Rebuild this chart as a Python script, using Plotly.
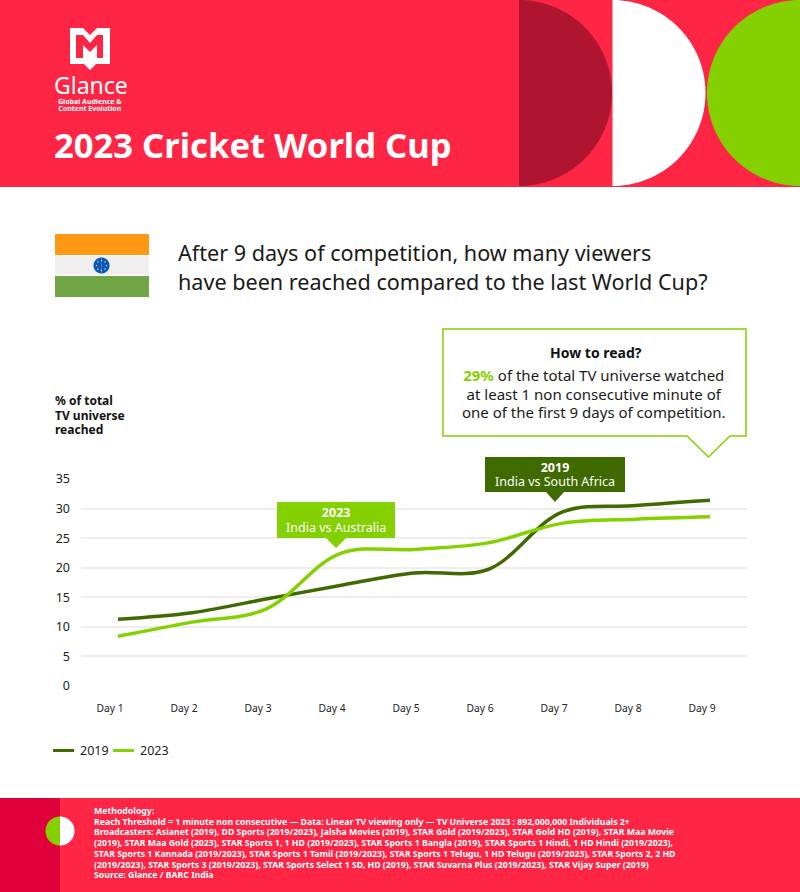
import numpy as np
import plotly.graph_objects as go

W, H = 800, 892

RED = "#FF2545"
RED_DARK = "#E0003A"
WINE = "#B01530"
GREEN = "#84D000"
OLIVE = "#3F6A00"
FONT = "Noto Sans"

days = ["Day 1", "Day 2", "Day 3", "Day 4", "Day 5", "Day 6", "Day 7", "Day 8", "Day 9"]
reach_2019 = [11.3, 12.4, 14.7, 17.0, 19.1, 19.7, 29.4, 30.5, 31.4]
reach_2023 = [8.4, 10.8, 13.0, 22.4, 23.1, 24.2, 27.5, 28.2, 28.6]
y_ticks = [0, 5, 10, 15, 20, 25, 30, 35]

title = "2023 Cricket World Cup"
question = ["After 9 days of competition, how many viewers",
            "have been reached compared to the last World Cup?"]
y_title = ["% of total", "TV universe", "reached"]
how_to_read = ["<span style='color:#84D000'><b>29%</b></span> of the total TV universe watched",
               "at least 1 non consecutive minute of",
               "one of the first 9 days of competition."]
methodology = [
    "Methodology:",
    "Reach Threshold = 1 minute non consecutive — Data: Linear TV viewing only — TV Universe 2023 : 892,000,000 Individuals 2+",
    "Broadcasters: Asianet (2019), DD Sports (2019/2023), Jalsha Movies (2019), STAR Gold (2019/2023), STAR Gold HD (2019), STAR Maa Movie",
    "(2019), STAR Maa Gold (2023), STAR Sports 1, 1 HD (2019/2023), STAR Sports 1 Bangla (2019), STAR Sports 1 Hindi, 1 HD Hindi (2019/2023),",
    "STAR Sports 1 Kannada (2019/2023), STAR Sports 1 Tamil (2019/2023), STAR Sports 1 Telugu, 1 HD Telugu (2019/2023), STAR Sports 2, 2 HD",
    "(2019/2023), STAR Sports 3 (2019/2023), STAR Sports Select 1 SD, HD (2019), STAR Suvarna Plus (2019/2023), STAR Vijay Super (2019)",
    "Source: Glance / BARC India",
]


# page furniture is placed in pixels, converted here to paper units
def px(x):
    return x / W


def py(y):
    return 1 - y / H


def poly(points, fill, line=None, width=0):
    path = "M " + " L ".join(f"{px(x):.5f},{py(y):.5f}" for x, y in points) + " Z"
    return dict(type="path", xref="paper", yref="paper", path=path, fillcolor=fill,
                line=dict(color=line or fill, width=width), layer="above")


def rect(x0, y0, x1, y1, fill):
    return poly([(x0, y0), (x1, y0), (x1, y1), (x0, y1)], fill)


def half_disc(cx, cy, r, fill, side=1):
    t = np.linspace(-np.pi / 2, np.pi / 2, 80)
    return poly(list(zip(cx + side * r * np.cos(t), cy + r * np.sin(t))), fill)


def text(x, y, s, size, color="#1a1a1a", bold=False, anchor="left"):
    # annotations carry a small inner pad, take it back on left aligned text
    return dict(xref="paper", yref="paper", x=px(x), y=py(y), text=f"<b>{s}</b>" if bold else s,
                showarrow=False, xanchor=anchor, yanchor="middle", align=anchor,
                xshift=-2 if anchor == "left" else 0,
                font=dict(family=FONT, size=size, color=color))


def block(x, y, lines, size, leading, color="#1a1a1a", bold=False, anchor="left"):
    # plotly spaces lines at 1.3 x the annotation font, inner spans set the glyph size
    body = "<br>".join(f"<span style='font-size:{size}px'>{s}</span>" for s in lines)
    return text(x, y, body, leading / 1.3, color, bold, anchor)


shapes = [
    # header
    rect(0, 0, W, 187, RED),
    half_disc(519, 93, 93, WINE),
    half_disc(612.5, 93, 93, "#FFFFFF"),
    half_disc(800, 93, 93, GREEN, side=-1),
    # logo
    poly([(70, 28), (83, 28), (90, 35), (97, 28), (110, 28), (110, 64), (96, 64), (90, 70), (84, 64), (70, 64)], "#FFFFFF"),
    poly([(76, 35), (83, 35), (90, 43), (97, 35), (103, 35), (103, 58), (97, 58), (97, 45), (90, 52), (83, 45), (83, 58), (76, 58)], RED),
    # flag
    rect(55, 234, 149, 255, "#FF9914"),
    rect(55, 256, 149, 275, "#EFEFEF"),
    rect(55, 276, 149, 297, "#6FA544"),
    half_disc(101.5, 265.5, 8, "#0A56B4"),
    half_disc(101.5, 265.5, 8, "#0A56B4", side=-1),
    # how to read box
    poly([(443, 329), (746, 329), (746, 436), (730, 436), (708.5, 457), (687, 436), (443, 436)], "#FFFFFF", GREEN, 1.5),
    # match labels
    poly([(485, 457), (625, 457), (625, 492), (564, 492), (555, 502), (546, 492), (485, 492)], OLIVE),
    poly([(277, 502), (395, 502), (395, 538), (346, 538), (336, 548), (326, 538), (277, 538)], GREEN),
    # legend swatches
    rect(53, 749, 74, 752, OLIVE),
    rect(113, 749, 134, 752, GREEN),
    # footer
    rect(0, 798, W, H, RED),
    rect(0, 798, 60, H, RED_DARK),
    half_disc(60, 831, 14.5, "#FFFFFF"),
    half_disc(60, 831, 14.5, GREEN, side=-1),
]
# wheel spokes on the flag
for a in np.arange(0, 2 * np.pi, np.pi / 4):
    cx, cy = 101.5 + 5 * np.cos(a), 265.5 + 5 * np.sin(a)
    shapes.append(rect(cx - 0.6, cy - 0.6, cx + 0.6, cy + 0.6, "#DDE8F5"))

annotations = [
    text(54, 85, "Glance", 23, "#FFFFFF"),
    block(90, 105, ["Global Audience &amp;", "Content Evolution"], 7, 7.3, "#FFFFFF", True, "center"),
    text(54, 145, title, 34.6, "#FFFFFF", True),
    block(178, 266.5, question, 21.6, 29),
    text(596, 352, "How to read?", 14, "#111111", True, "center"),
    block(593.5, 393.5, how_to_read, 15, 18.5, anchor="center"),
    block(555, 474, ["<b>2019</b>", "India vs South Africa"], 12.5, 14, "#FFFFFF", anchor="center"),
    block(336, 519.5, ["<b>2023</b>", "India vs Australia"], 12.5, 14.5, "#FFFFFF", anchor="center"),
    text(80, 750.5, "2019", 12.5, "#222222"),
    text(140, 750.5, "2023", 12.5, "#222222"),
    block(55, 414.5, y_title, 12, 14.5, "#111111", True),
    block(94, 843, methodology, 8.73, 10.7, "#FFFFFF", True),
]

fig = go.Figure()
fig.add_trace(go.Scatter(x=days, y=reach_2019, name="2019", mode="lines",
                         line=dict(color=OLIVE, width=3.5, shape="spline", smoothing=1)))
fig.add_trace(go.Scatter(x=days, y=reach_2023, name="2023", mode="lines",
                         line=dict(color=GREEN, width=3.5, shape="spline", smoothing=1)))

fig.update_layout(
    width=W, height=H, margin=dict(l=0, r=0, t=0, b=0, autoexpand=False),
    paper_bgcolor="#FFFFFF", plot_bgcolor="#FFFFFF", showlegend=False,
    font=dict(family=FONT, color="#222222"),
    shapes=shapes, annotations=annotations,
    xaxis=dict(domain=[px(81), px(747)], range=[-0.5, 8.5], type="category", showgrid=False,
               zeroline=False, showline=False, tickfont=dict(size=10.3), ticklabelstandoff=15,
               ticklabelshift=-8, ticks=""),
    yaxis=dict(domain=[py(686), py(479)], range=[0, 35], tickvals=y_ticks, gridcolor="#EDEDED",
               gridwidth=1.5, zeroline=False, showline=False, tickfont=dict(size=12.5),
               ticklabelstandoff=10, ticks=""),
)

fig.write_html("out.html", config={"displayModeBar": False},
               post_script="document.body.style.margin='0';")
